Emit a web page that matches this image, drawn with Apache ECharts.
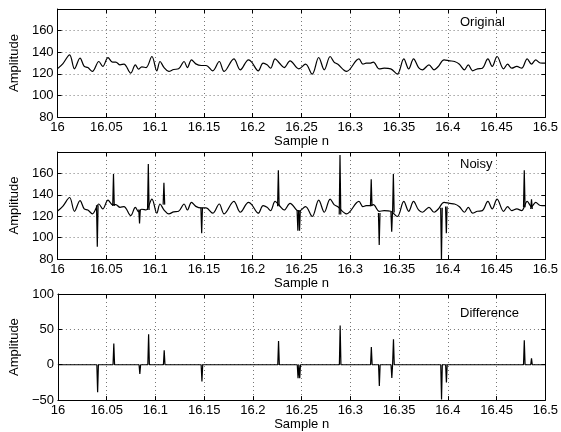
<!DOCTYPE html>
<html>
<head>
<meta charset="utf-8">
<script src="https://cdn.jsdelivr.net/npm/echarts@6/dist/echarts.min.js"></script>
<style>html,body{margin:0;padding:0;background:#fff}#c{width:561px;height:432px}</style>
</head>
<body>
<div id="c"></div>
<script>
// ---- data ----
const origX = [16.0, 16.0055, 16.0123, 16.0173, 16.023, 16.0273, 16.031, 16.0357, 16.0423, 16.0463, 16.0517, 16.0563, 16.0597, 16.064, 16.068, 16.075, 16.0797, 16.083, 16.0863, 16.0907, 16.0967, 16.1017, 16.105, 16.109, 16.114, 16.119, 16.124, 16.1297, 16.133, 16.1373, 16.1417, 16.1473, 16.1523, 16.159, 16.1657, 16.1707, 16.1807, 16.1873, 16.1957, 16.199, 16.2057, 16.2107, 16.2147, 16.2183, 16.223, 16.2273, 16.2323, 16.2383, 16.2473, 16.2542, 16.261, 16.2677, 16.2734, 16.2794, 16.2834, 16.2870, 16.2962, 16.3089, 16.313, 16.3163, 16.3200, 16.3237, 16.3297, 16.3348, 16.3415, 16.3482, 16.3549, 16.3599, 16.3649, 16.37, 16.374, 16.3807, 16.386, 16.390, 16.3962, 16.4019, 16.4069, 16.4119, 16.417, 16.421, 16.4254, 16.4304, 16.4354, 16.4411, 16.4455, 16.4505, 16.4572, 16.4613, 16.4656, 16.4707, 16.4757, 16.4814, 16.4858, 16.4901, 16.4948, 16.5];
const origY = [124.8, 129.5, 137.5, 124.6, 134.5, 126.8, 125.8, 122.2, 131.4, 126.8, 135.0, 130.8, 130.8, 128.3, 129.0, 120.6, 128.3, 124.3, 126.5, 125.8, 136.0, 122.8, 131.4, 126.0, 122.2, 124.0, 124.6, 131.4, 125.8, 132.9, 129.2, 127.7, 127.7, 122.8, 131.4, 122.2, 133.8, 123.7, 132.9, 130.8, 122.8, 129.8, 128.3, 125.2, 133.8, 130.0, 125.8, 132.0, 124.6, 128.9, 119.7, 135.1, 123.7, 136.0, 130.8, 129.0, 122.2, 133.8, 128.9, 129.8, 129.8, 130.8, 124.6, 125.2, 124.6, 119.7, 133.8, 124.6, 133.8, 125.8, 123.7, 128.3, 123.7, 126.5, 132.9, 132.0, 131.4, 128.9, 123.7, 128.3, 122.8, 124.6, 125.2, 133.8, 126.8, 136.0, 124.6, 128.9, 125.2, 126.8, 125.2, 133.8, 128.9, 132.9, 130.0, 129.8];

const spikeX     = [16.0407, 16.0573, 16.084, 16.093, 16.109, 16.1477, 16.2263, 16.2463, 16.2480, 16.2895, 16.3215, 16.3297, 16.3425, 16.3442, 16.3935, 16.3985, 16.4784, 16.4858];
const spikeBase  = [130.3, 129.5, 126.3, 125.7, 130.8, 127.8, 129.4, 125.5, 125.5, 121.5, 129.4, 123.0, 124.0, 123.4, 128.0, 129.0, 128.4, 126.7];
const noisyTip   = [91.5, 159.4, 113.3, 168.7, 151.3, 104.0, 163.0, 106.4, 106.4, 177.1, 154.4, 93.1, 105.5, 159.4, 79.0, 104.0, 163.0, 135.7];
const diffTip    = [-38.8, 29.9, -13.0, 43.0, 20.5, -23.8, 33.6, -19.0, -19.0, 55.6, 25.0, -30.0, -18.7, 36.0, -49.0, -25.0, 34.6, 9.0];

const xTicks = { min: 16, max: 16.5, step: 0.05 };
const yTop = { min: 80, max: 180, step: 20 };
const yDiff = { min: -50, max: 100, step: 50 };
const panelTitles = ['Original', 'Noisy', 'Difference'];

// ---- build ----
const FONT = 'Liberation Sans, Arial, Helvetica, sans-serif';
const W = 0.0008;
const grids = [
  { left: 52, width: 496, top: 9, height: 108 },
  { left: 52, width: 496, top: 152, height: 107 },
  { left: 52, width: 496, top: 294, height: 108 }
];
const tickStyle = { inside: true, length: 4, lineStyle: { color: '#000', width: 1 } };
const lineAx = { show: true, onZero: false, lineStyle: { color: '#000', width: 1 } };
const split = { show: true, lineStyle: { color: '#777', type: [1, 3], width: 1 } };

const xAxis = [], yAxis = [];
grids.forEach((g, gi) => {
  xAxis.push({
    gridIndex: gi, type: 'value', min: xTicks.min, max: xTicks.max, interval: xTicks.step,
    position: 'bottom', axisLine: lineAx, axisTick: tickStyle, splitLine: split,
    axisLabel: { color: '#000', fontSize: 13, fontFamily: FONT, margin: 4, showMinLabel: true, showMaxLabel: true,
      formatter: v => String(Math.round(v * 100) / 100) },
    name: 'Sample n', nameLocation: 'middle', nameGap: 16,
    nameTextStyle: { color: '#000', fontSize: 13, fontFamily: FONT }
  });
  xAxis.push({
    gridIndex: gi, type: 'value', min: xTicks.min, max: xTicks.max, interval: xTicks.step,
    position: 'top', axisLine: lineAx, axisTick: tickStyle, axisLabel: { show: false }, splitLine: { show: false }
  });
  const yr = gi < 2 ? yTop : yDiff;
  yAxis.push({
    gridIndex: gi, type: 'value', min: yr.min, max: yr.max, interval: yr.step,
    position: 'left', axisLine: lineAx, axisTick: tickStyle, splitLine: split,
    axisLabel: { color: '#000', fontSize: 13, fontFamily: FONT, margin: 4,
      formatter: v => (gi < 2 && v === 180) ? '' : (v < 0 ? '\u2212' + (-v) : String(v)) },
    name: 'Amplitude', nameLocation: 'middle', nameGap: 30,
    nameTextStyle: { color: '#000', fontSize: 13, fontFamily: FONT }
  });
  yAxis.push({
    gridIndex: gi, type: 'value', min: yr.min, max: yr.max, interval: yr.step,
    position: 'right', axisLine: lineAx, axisTick: tickStyle, axisLabel: { show: false }, splitLine: { show: false }
  });
});

const base = origX.map((x, i) => [x, origY[i]]);
const lineStyle = { color: '#000', width: 1.2 };
const series = [];
// original
series.push({ type: 'line', xAxisIndex: 0, yAxisIndex: 0, data: base, smooth: 0.35, showSymbol: false, lineStyle, silent: true, animation: false });
// noisy: underlying signal + impulse spikes
series.push({ type: 'line', xAxisIndex: 2, yAxisIndex: 2, data: base, smooth: 0.35, showSymbol: false, lineStyle, silent: true, animation: false });
spikeX.forEach((x, i) => {
  series.push({ type: 'line', xAxisIndex: 2, yAxisIndex: 2, showSymbol: false, lineStyle, silent: true, animation: false,
    data: [[x - W, spikeBase[i]], [x, noisyTip[i]], [x + W, spikeBase[i]]] });
});
// difference
const diffData = [[xTicks.min, 0]];
spikeX.forEach((x, i) => { diffData.push([x - W, 0], [x, diffTip[i]], [x + W, 0]); });
diffData.push([xTicks.max, 0]);
series.push({ type: 'line', xAxisIndex: 4, yAxisIndex: 4, data: diffData, showSymbol: false, lineStyle, silent: true, animation: false });

const titleTops = [16, 158, 307];
const graphic = panelTitles.map((t, i) => ({
  type: 'text', left: 460, top: titleTops[i],
  style: { text: t, fill: '#000', font: '13px ' + FONT }
}));

const chart = echarts.init(document.getElementById('c'), null, { renderer: 'canvas' });
chart.setOption({ animation: false, backgroundColor: '#fff', grid: grids, xAxis, yAxis, series, graphic });
</script>
</body>
</html>
